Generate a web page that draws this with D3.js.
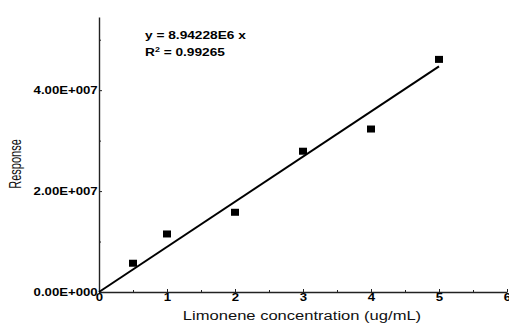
<!DOCTYPE html>
<html>
    <head>
        <title>Limonene calibration</title>
        <script src="https://d3js.org/d3.v7.min.js"></script>
        <style>
         body { margin: 0; background: #fff; }
         svg { display: block; font-family: "Liberation Sans", Arial, sans-serif; }
        </style>
    </head>
    <body>
        <svg width="509" height="324"></svg>

        <script>
         // data
         const concentrations = [0.5, 1, 2, 3, 4, 5];
         const responses = [5.7e6, 1.15e7, 1.58e7, 2.79e7, 3.23e7, 4.61e7];
         const slope = 8.94228e6;
         const fitRange = [0, 5];

         const xTicks = [0, 1, 2, 3, 4, 5, 6];
         const xMinorTicks = [0.5, 1.5, 2.5, 3.5, 4.5, 5.5];
         const yTicks = [0, 2e7, 4e7];
         const yTickLabels = ["0.00E+000", "2.00E+007", "4.00E+007"];
         const yMinorTicks = [1e7, 3e7, 5e7];
         const equationText = "y = 8.94228E6 x";
         const r2Text = "0.99265";

         const svg = d3.select("svg");
         const stretch = 1.32; // the original image is widened horizontally

         const xScale = d3.scaleLinear().domain([0, 6]).range([99, 507]);
         const yScale = d3.scaleLinear().domain([0, 5.45e7]).range([292, 17]);

         // minor ticks
         svg.append("g")
            .attr("transform", "translate(99,0)")
            .call(d3.axisLeft(yScale).tickValues(yMinorTicks).tickSize(-2).tickFormat(""))
            .call(g => g.select(".domain").remove());
         svg.append("g")
            .attr("transform", "translate(0,292)")
            .call(d3.axisBottom(xScale).tickValues(xMinorTicks).tickSize(-2).tickFormat(""))
            .call(g => g.select(".domain").remove());

         // y axis
         const yAxis = svg.append("g")
            .attr("transform", "translate(99,0)")
            .call(d3.axisLeft(yScale)
                    .tickValues(yTicks)
                    .tickSizeInner(-3)
                    .tickSizeOuter(0)
                    .tickPadding(1)
                    .tickFormat((d, i) => yTickLabels[i]));

         // x axis
         const xAxis = svg.append("g")
            .attr("transform", "translate(0,292)")
            .call(d3.axisBottom(xScale)
                    .tickValues(xTicks)
                    .tickSizeInner(-3)
                    .tickSizeOuter(0)
                    .tickPadding(2)
                    .tickFormat(d3.format("d")));

         [yAxis, xAxis].forEach(ax => {
             ax.select(".domain").attr("stroke", "#222").attr("stroke-width", 1.4);
             ax.selectAll("text")
               .attr("font-family", "Liberation Sans, Arial, sans-serif")
               .attr("font-size", 10)
               .attr("font-weight", "bold")
               .attr("fill", "#000")
               .attr("transform", `scale(${stretch},1)`);
         });
         svg.selectAll(".tick line").attr("stroke", "#222");

         // fit line
         svg.append("line")
            .attr("x1", xScale(fitRange[0]))
            .attr("y1", yScale(slope * fitRange[0]))
            .attr("x2", xScale(fitRange[1]))
            .attr("y2", yScale(slope * fitRange[1]))
            .attr("stroke", "#000")
            .attr("stroke-width", 2);

         // points
         svg.selectAll("rect.pt")
            .data(concentrations)
            .join("rect")
            .attr("class", "pt")
            .attr("x", d => xScale(d) - 4)
            .attr("y", (d, i) => yScale(responses[i]) - 3.5)
            .attr("width", 8)
            .attr("height", 7)
            .attr("fill", "#000");

         // equation
         svg.append("text")
            .attr("transform", `translate(145,39) scale(${stretch + 0.05},1)`)
            .attr("font-size", 10)
            .attr("font-weight", "bold")
            .attr("fill", "#000")
            .text(equationText);

         const r2 = svg.append("text")
            .attr("transform", `translate(145,56) scale(${stretch + 0.05},1)`)
            .attr("font-size", 10)
            .attr("font-weight", "bold")
            .attr("fill", "#000");
         r2.append("tspan").text("R");
         r2.append("tspan").attr("font-size", 6.5).attr("dy", -4).text("2");
         r2.append("tspan").attr("dy", 4).text(" = " + r2Text);

         // axis titles
         svg.append("text")
            .attr("transform", `translate(302,320) scale(1.38,1)`)
            .attr("text-anchor", "middle")
            .attr("font-size", 12)
            .attr("fill", "#111")
            .text("Limonene concentration (ug/mL)");

         svg.append("text")
            .attr("transform", `translate(21,164) scale(1.5,1) rotate(-90)`)
            .attr("text-anchor", "middle")
            .attr("font-size", 11)
            .attr("fill", "#111")
            .text("Response");
        </script>
    </body>
</html>
